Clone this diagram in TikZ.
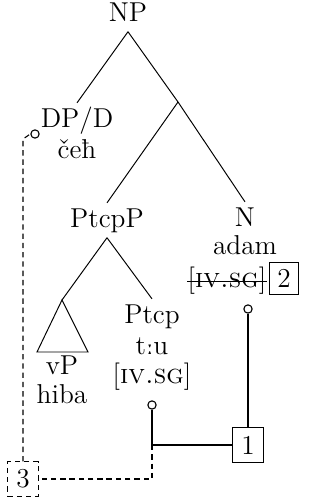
\documentclass[tikz,border=0pt]{standalone}
\usepackage{fontspec}
\newfontfamily\ipafont{DejaVu Serif}[Scale=0.8]
\begin{document}
\begin{tikzpicture}[x=0.41pt,y=-0.41pt,
  every node/.style={font=\fontsize{11.2}{13.5}\selectfont},
  cat/.style={inner xsep=0pt, inner ysep=2pt, anchor=base, text height=7.7pt, text depth=2.2pt},
  word/.style={inner sep=0pt, anchor=base},
  branch/.style={line width=0.4pt},
  idx/.style={draw, line width=0.45pt, inner sep=0pt, minimum width=12.7pt, minimum height=14pt},
  tie/.style={draw, circle, line width=0.45pt, inner sep=0pt, minimum size=3.4pt, fill=white},
  link/.style={line width=0.45pt},
  dlink/.style={line width=0.45pt, dash pattern=on 2.2pt off 1.6pt}]
\useasboundingbox (0,0) rectangle (322,504);
% tree labels
\node[cat] (np) at (128,21) {NP};
\node[cat] (dp) at (77,127) {DP/D};
\node[word] (ceh) at (77,158) {čeħ};
\coordinate (x) at (178,102);
\node[cat] (ptcpp) at (107,227) {PtcpP};
\node[cat] (n) at (245,226) {N};
\node[word] (adam) at (245,254) {adam};
\node[word] (fN) at (227,287) {[\textsc{iv.sg}]};
\node[draw, line width=0.45pt, inner sep=0pt, minimum width=11.8pt, minimum height=13pt, anchor=base, text height=7.2pt, text depth=0pt] (b2) at (284,287) {2};
\node[cat] (ptcp) at (152,323) {Ptcp};
\node[word] (tu) at (152,354) {t{\ipafont ː}u};
\node[word] (fP) at (152,383) {[\textsc{iv.sg}]};
\coordinate (vpA) at (62,300);
\coordinate (vpL) at (37,352);
\coordinate (vpR) at (88,352);
\node[word] (vp) at (62,374) {vP};
\node[word] (hiba) at (62,403) {hiba};
% strike
\draw[line width=0.45pt] ([yshift=2.4pt]fN.base west) -- ([yshift=2.4pt]fN.base east);
% branches
\draw[branch] (np.south) -- (dp.north);
\draw[branch] (np.south) -- (x);
\draw[branch] (x) -- (n.north);
\draw[branch] (x) -- (ptcpp.north);
\draw[branch] (ptcpp.south) -- (vpA);
\draw[branch] (ptcpp.south) -- (ptcp.north);
\draw[branch] (vpA) -- (vpL) -- (vpR) -- cycle;
% index boxes
\node[idx] (b1) at (248,445) {1};
\node[idx, dlink] (b3) at (23,479) {3};
% circles
\node[tie] (cD) at (35,134) {};
\node[tie] (cN) at (248,309) {};
\node[tie] (cP) at (152,405) {};
\coordinate (elbow) at (cP.south |- b1.west);
\coordinate (dcorner) at (b3.north |- 0,139);
\draw[link] (cN.south) -- (b1.north);
\draw[link] (cP.south) |- (b1.west);
\draw[dlink] (elbow) |- (b3.east);
\draw[dlink] (b3.north) -- (dcorner) -- (cD.west);
\end{tikzpicture}
\end{document}
